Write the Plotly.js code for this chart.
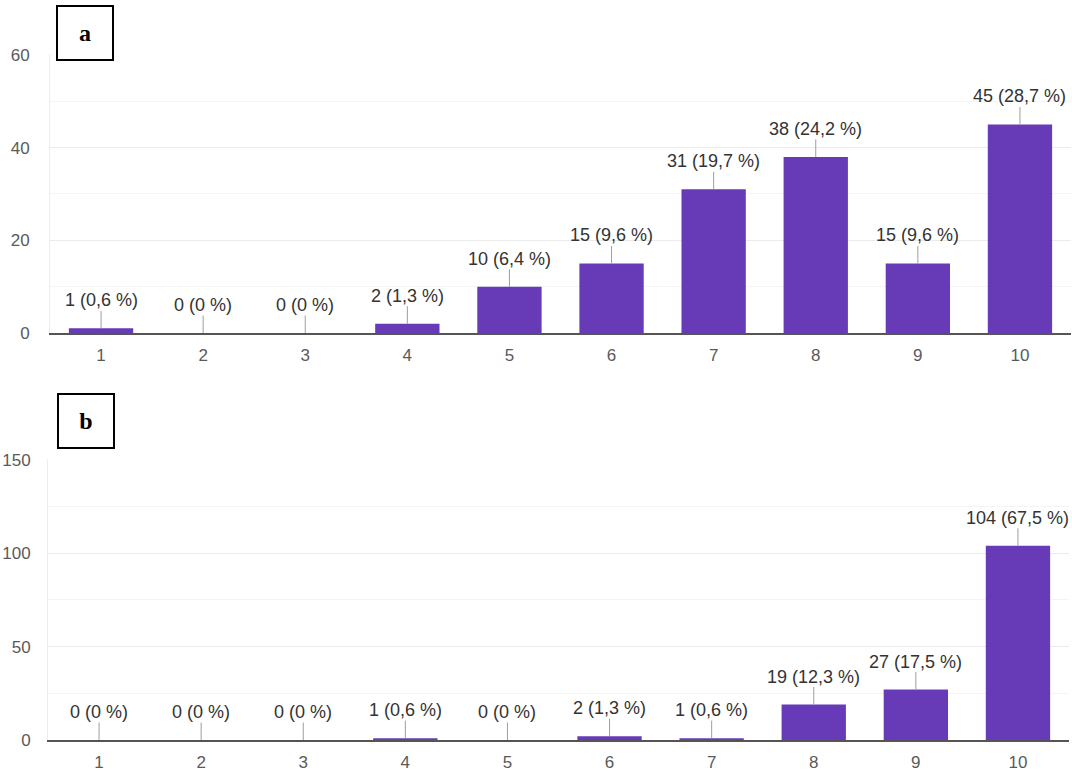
<!DOCTYPE html>
<html>
<head>
<meta charset="utf-8">
<script src="https://cdn.plot.ly/plotly-3.0.1.min.js"></script>
<style>
  html, body { margin: 0; padding: 0; background: #fff; }
  #chart { width: 1072px; height: 775px; }
</style>
</head>
<body>
<div id="chart"></div>
<script>
// ---- data ----
const categories = [1, 2, 3, 4, 5, 6, 7, 8, 9, 10];
const countsA = [1, 0, 0, 2, 10, 15, 31, 38, 15, 45];
const pctA = ['0,6', '0', '0', '1,3', '6,4', '9,6', '19,7', '24,2', '9,6', '28,7'];
const countsB = [0, 0, 0, 1, 0, 2, 1, 19, 27, 104];
const pctB = ['0', '0', '0', '0,6', '0', '1,3', '0,6', '12,3', '17,5', '67,5'];
const panelLabels = ['a', 'b'];

const W = 1072, H = 775;
const barColor = '#673ab7';
const tickFont = { family: 'Liberation Sans, Arial, sans-serif', size: 17, color: '#5a5a5a' };
const annFont = { family: 'Liberation Sans, Arial, sans-serif', size: 18, color: '#333333' };

const traces = [
  { type: 'bar', x: categories, y: countsA, xaxis: 'x', yaxis: 'y',
    width: 0.63, marker: { color: barColor, line: { width: 0 } }, hoverinfo: 'x+y' },
  { type: 'bar', x: categories, y: countsB, xaxis: 'x2', yaxis: 'y2',
    width: 0.63, marker: { color: barColor, line: { width: 0 } }, hoverinfo: 'x+y' }
];

function labelAnns(counts, pcts, xref, yref) {
  return categories.map((c, i) => ({
    x: c, y: counts[i], xref: xref, yref: yref,
    text: counts[i] + ' (' + pcts[i] + ' %)',
    showarrow: true, arrowhead: 0, arrowwidth: 1, arrowcolor: '#9e9e9e',
    ax: 0, ay: -28, standoff: 0, startstandoff: 0,
    font: annFont, borderpad: 0
  }));
}

const boxAnns = [
  { text: panelLabels[0], cx: 85, cy: 33 },
  { text: panelLabels[1], cx: 86, cy: 421 }
].map(b => ({
  xref: 'paper', yref: 'paper', x: b.cx / W, y: 1 - b.cy / H,
  xanchor: 'center', yanchor: 'middle', showarrow: false,
  text: '<b>' + b.text + '</b>',
  font: { family: 'Liberation Serif, Times New Roman, serif', size: 24, color: '#000' },
  bordercolor: '#000', borderwidth: 2, width: 52, height: 50, bgcolor: '#fff'
}));

const commonX = {
  tickmode: 'array', tickvals: categories, ticktext: categories.map(String),
  range: [0.5, 10.5], showgrid: false, zeroline: false,
  showline: true, linecolor: '#555', linewidth: 2,
  ticks: '', tickfont: tickFont, ticklabelstandoff: 6, fixedrange: true
};
const commonY = {
  showgrid: true, gridcolor: '#ebebeb', gridwidth: 1, zeroline: false,
  showline: true, linecolor: '#ededed', linewidth: 1,
  ticks: '', tickfont: tickFont, fixedrange: true
};

const layout = {
  width: W, height: H,
  margin: { l: 0, r: 0, t: 0, b: 0 },
  paper_bgcolor: '#fff', plot_bgcolor: '#fff',
  showlegend: false, bargap: 0.37,
  xaxis: Object.assign({}, commonX, { domain: [50 / W, 1071 / W], anchor: 'y' }),
  yaxis: Object.assign({}, commonY, {
    domain: [(H - 333) / H, (H - 54) / H], range: [0, 60.2], dtick: 20, tick0: 0,
    ticklabelstandoff: 16, anchor: 'x',
    minor: { dtick: 10, showgrid: true, gridcolor: '#f4f4f4', gridwidth: 1, ticks: '' }
  }),
  xaxis2: Object.assign({}, commonX, { domain: [48 / W, 1069 / W], anchor: 'y2' }),
  yaxis2: Object.assign({}, commonY, {
    domain: [(H - 740) / H, (H - 459) / H], range: [0, 150.5], dtick: 50, tick0: 0,
    ticklabelstandoff: 13, anchor: 'x2',
    minor: { dtick: 25, showgrid: true, gridcolor: '#f4f4f4', gridwidth: 1, ticks: '' }
  }),
  annotations: labelAnns(countsA, pctA, 'x', 'y')
    .concat(labelAnns(countsB, pctB, 'x2', 'y2'))
    .concat(boxAnns)
};

Plotly.newPlot('chart', traces, layout, { displayModeBar: false, staticPlot: true });
</script>
</body>
</html>
